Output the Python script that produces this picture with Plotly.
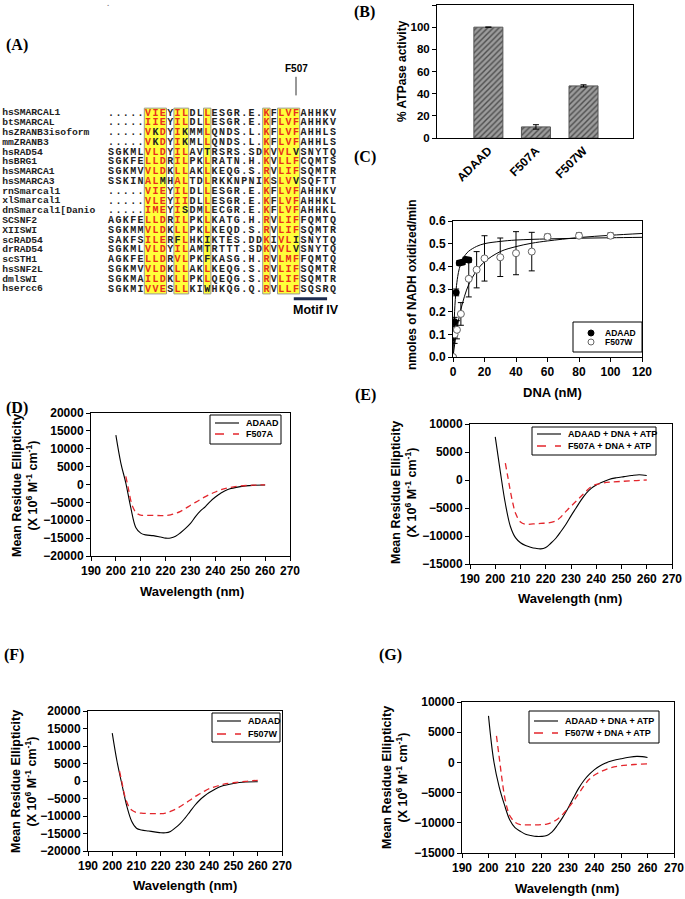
import plotly.graph_objects as go

W, H = 685, 899

# ---------- (A) alignment ----------
names = ["hsSMARCAL1", "btSMARCAL", "hsZRANB3isoform", "mmZRANB3", "hsRAD54", "hsBRG1",
         "hsSMARCA1", "hsSMARCA3", "rnSmarcal1", "xlSmarcal1", "dnSmarcal1[Danio",
         "SCSNF2", "XIISWI", "scRAD54", "drRAD54", "scSTH1", "hsSNF2L", "dmlSWI", "hsercc6"]
seqs = [".....VIEYILDLLESGR.E.KFLVFAHHKV",
        ".....IIEYILDLLESGR.E.KFLVFAHHKV",
        ".....VKDYIKMMLQNDS.L.KFLVFAHHLS",
        ".....VKDYIKMLLQNDS.L.KFLVFAHHLS",
        "SGKMLVLDYILAVTRSRS.SDKVVLVSNYTQ",
        "SGKFELLDRILPKLRATN.H.KVLLFCQMTS",
        "SGKMVVLDKLLAKLKEQG.S.RVLIFSQMTR",
        "SSKINALMHALTDLRKKNPNIKSLVVSQFTT",
        ".....VIEYILDLLESGR.E.KFLVFAHHKV",
        ".....VLEYIIDLLESGR.E.KFLVFAHHKL",
        ".....IMEYISDMLECGR.E.KFLVFAHHKL",
        "AGKFELLDRILPKLKATG.H.RVLIFFQMTQ",
        "SGKMMVLDKLLPKLKEQD.S.RVLIFSQMTR",
        "SAKFSILERFLHKIKTES.DDKIVLISNYTQ",
        "SGKMLVLDYILAMTRTTT.SDKVVLVSNYTQ",
        "AGKFELLDRVLPKFKASG.H.RVLMFFQMTQ",
        "SGKMVVLDKLLAKLKEQG.S.RVLIFSQMTR",
        "SGKMAILDKLLPKLQEQG.S.RVLIFSQMTR",
        "SGKMIVVESLLKIWHKQG.Q.RVLLFSQSRQ"]
# residues printed in red inside the boxed columns
conserved = {6: "VILA", 7: "ILVM", 8: "DE", 10: "ILVA", 11: "LI", 14: "L",
             22: "KR", 24: "LV", 25: "VLIM", 26: "F"}
mutated_col = 26

# ---------- (B) ATPase ----------
b_labels = ["ADAAD", "F507A", "F507W"]
b_values = [100, 10, 47]
b_err = [0, 2, 1]

# ---------- (C) DNA titration ----------
c_adaad_x = [0, 1, 2, 4, 6, 8, 10]
c_adaad_y = [0, 0.155, 0.285, 0.415, 0.418, 0.43, 0.428]
c_adaad_e = [0, 0.02, 0.015, 0.01, 0.01, 0.01, 0.01]
c_w_x = [0, 1, 2.5, 5, 10, 15, 20, 30, 40, 50, 60, 80, 100]
c_w_y = [0, 0.1, 0.12, 0.19, 0.345, 0.385, 0.435, 0.44, 0.458, 0.465, 0.53, 0.535, 0.535]
c_w_e = [0, 0.04, 0.04, 0.05, 0.08, 0.08, 0.1, 0.085, 0.095, 0.085, 0.012, 0.012, 0.012]
fit_adaad_x = [0, 1, 2, 3, 4, 6, 8, 10, 15, 20, 30, 40, 60, 80, 100, 120]
fit_adaad_y = [0, 0.2, 0.3, 0.355, 0.39, 0.43, 0.452, 0.467, 0.488, 0.5, 0.51, 0.516, 0.521, 0.524, 0.526, 0.528]
fit_w_x = [0, 2, 5, 10, 15, 20, 30, 40, 50, 60, 80, 100, 120]
fit_w_y = [0, 0.1, 0.21, 0.32, 0.38, 0.42, 0.465, 0.487, 0.502, 0.512, 0.527, 0.537, 0.545]

# ---------- (D) CD ----------
d_wt_x = [200, 202, 204, 206, 208, 210, 212, 215, 218, 220, 222, 224, 226, 228, 230, 232, 234, 236, 238, 240, 242, 245, 250, 255, 260]
d_wt_y = [13800, 6000, 400, -6500, -12000, -13600, -14100, -14300, -14700, -15000, -14950, -14500, -13500, -12300, -10900, -9000, -7400, -6200, -4700, -3500, -2500, -1400, -600, -250, -150]
d_mut_x = [204, 205, 206, 207, 208, 209, 210, 212, 215, 218, 220, 222, 224, 226, 228, 230, 232, 234, 236, 238, 240, 243, 246, 250, 255, 260]
d_mut_y = [2300, -1000, -4500, -6600, -7800, -8300, -8600, -8650, -8650, -8700, -8700, -8500, -8100, -7500, -6700, -5800, -5000, -4200, -3400, -2700, -2100, -1300, -800, -400, -200, -100]

# ---------- (E) CD + DNA + ATP ----------
e_wt_x = [200, 202, 204, 206, 208, 210, 212, 214, 216, 218, 220, 222, 224, 226, 228, 230, 232, 234, 236, 238, 240, 242, 245, 248, 251, 254, 257, 260]
e_wt_y = [7700, 1500, -4200, -8300, -10300, -11200, -11700, -12000, -12200, -12300, -12050, -11300, -10400, -9200, -7900, -6400, -5000, -3600, -2400, -1500, -900, -450, 100, 400, 600, 800, 950, 800]
e_mut_x = [204, 205, 206, 207, 208, 210, 212, 215, 218, 221, 224, 226, 228, 230, 232, 234, 236, 238, 240, 243, 246, 250, 255, 260]
e_mut_y = [3000, 500, -2000, -4200, -5900, -7500, -7900, -7850, -7750, -7650, -7300, -6600, -5600, -4700, -3800, -2900, -2000, -1200, -800, -500, -350, -250, -100, 0]

# ---------- (F) CD ----------
f_wt_x = [200, 202, 204, 206, 208, 210, 212, 215, 218, 220, 222, 224, 226, 228, 230, 232, 234, 236, 238, 240, 242, 245, 250, 255, 260]
f_wt_y = [13700, 5500, -1000, -7200, -11500, -13500, -14000, -14300, -14600, -14800, -14800, -14400, -13400, -12200, -10600, -8800, -7000, -5500, -4300, -3300, -2500, -1500, -700, -300, -200]
f_mut_x = [203, 204, 205, 206, 207, 208, 210, 212, 215, 218, 220, 222, 224, 226, 228, 230, 232, 234, 236, 238, 240, 243, 246, 250, 255, 260]
f_mut_y = [2800, -400, -3800, -6000, -7500, -8300, -9000, -9200, -9300, -9350, -9350, -9150, -8700, -8100, -7300, -6400, -5500, -4500, -3700, -2900, -2200, -1500, -900, -500, -100, 200]

# ---------- (G) CD + DNA + ATP ----------
g_wt_x = [200, 202, 204, 206, 208, 210, 212, 214, 216, 218, 220, 222, 224, 226, 228, 230, 232, 234, 236, 238, 240, 242, 244, 247, 250, 253, 256, 258, 260]
g_wt_y = [7700, 200, -4000, -7000, -9500, -10800, -11400, -11900, -12100, -12250, -12250, -12100, -11500, -10400, -9100, -7600, -5900, -4300, -3000, -2000, -1200, -600, -150, 300, 600, 850, 1000, 950, 800]
g_mut_x = [203, 204, 205, 206, 207, 208, 210, 212, 215, 218, 220, 222, 224, 226, 228, 230, 232, 234, 236, 238, 240, 243, 246, 250, 255, 260]
g_mut_y = [4400, 1000, -2500, -5500, -7500, -8800, -9900, -10300, -10350, -10350, -10300, -10200, -9900, -9400, -8600, -7600, -6500, -5200, -3900, -2800, -2100, -1400, -900, -550, -350, -250]

RED = "#e3262c"
SANS = "Liberation Sans"


def fx(p):
    return p / W


def fy(p):
    return 1 - p / H


def bfont(size, family=SANS, color="black"):
    return dict(family=family, size=size, color=color, weight="bold")


def frame_axis(x0, x1, rng, dtick, anchor, size=12, fmt=None, horizontal=True, **kw):
    d = dict(domain=[fx(x0), fx(x1)] if horizontal else [fy(x1), fy(x0)],
             range=rng, dtick=dtick, anchor=anchor, showline=True, linecolor="black",
             linewidth=1, mirror=True, ticks="outside", ticklen=4, tickwidth=1,
             tickcolor="black", showgrid=False, zeroline=False, tickfont=bfont(size),
             fixedrange=True, automargin=False)
    if fmt:
        d["tickformat"] = fmt
    d.update(kw)
    return d


fig = go.Figure()

# ---- alignment ----
xs, ys, txt, cols = [], [], [], []
for r, s in enumerate(seqs, start=1):
    for c, ch in enumerate(s, start=1):
        xs.append(c)
        ys.append(r)
        txt.append(ch)
        cols.append("#e8301c" if ch in conserved.get(c, "") else "#222222")
fig.add_trace(go.Scatter(x=xs, y=ys, text=txt, mode="text", textposition="middle center",
                         textfont=dict(family="Liberation Mono", size=10, color=cols, weight="bold"),
                         cliponaxis=False, showlegend=False, hoverinfo="skip", xaxis="x", yaxis="y"))
fig.add_trace(go.Scatter(x=[-13.7] * len(names), y=list(range(1, len(names) + 1)), text=names,
                         mode="text", textposition="middle right",
                         textfont=bfont(9.7, "Liberation Mono", "#222222"),
                         cliponaxis=False, showlegend=False, hoverinfo="skip", xaxis="x", yaxis="y"))

shapes = []
groups = []
for c in sorted(conserved):
    if groups and c == groups[-1][1] + 1:
        groups[-1][1] = c
    else:
        groups.append([c, c])
for c0, c1 in groups:
    shapes.append(dict(type="rect", xref="x", yref="y", x0=c0 - 0.5, x1=c1 + 0.5,
                       y0=0.5, y1=len(seqs) + 0.5, fillcolor="#ffff3a",
                       line=dict(color="#9a9a9a", width=1), layer="below"))
shapes.append(dict(type="line", xref="x", yref="y", x0=mutated_col, x1=mutated_col,
                   y0=-2.7, y1=-0.8, line=dict(color="#333333", width=1)))
shapes.append(dict(type="line", xref="x", yref="y", x0=25.7, x1=30.2, y0=20.0, y1=20.0,
                   line=dict(color="#1c2b4f", width=3)))

# ---- B bars ----
fig.add_trace(go.Bar(x=b_labels, y=b_values, width=0.61,
                     marker=dict(color="#8c8c8c", line=dict(color="#555555", width=1),
                                 pattern=dict(shape="/", fgcolor="#4d4d4d", bgcolor="#9c9c9c",
                                              size=4, solidity=0.35)),
                     error_y=dict(type="data", array=b_err, color="black", thickness=1, width=3),
                     showlegend=False, xaxis="x2", yaxis="y2"))

# ---- C titration ----
fig.add_trace(go.Scatter(x=fit_adaad_x, y=fit_adaad_y, mode="lines", line=dict(color="black", width=1, shape="spline"),
                         showlegend=False, xaxis="x3", yaxis="y3"))
fig.add_trace(go.Scatter(x=fit_w_x, y=fit_w_y, mode="lines", line=dict(color="black", width=1, shape="spline"),
                         showlegend=False, xaxis="x3", yaxis="y3"))
fig.add_trace(go.Scatter(x=c_adaad_x, y=c_adaad_y, mode="markers", name="ADAAD",
                         marker=dict(symbol="circle", size=7, color="black"),
                         error_y=dict(type="data", array=c_adaad_e, color="black", thickness=1, width=3),
                         showlegend=False, xaxis="x3", yaxis="y3"))
fig.add_trace(go.Scatter(x=c_w_x, y=c_w_y, mode="markers", name="F507W",
                         marker=dict(symbol="circle", size=7, color="white", line=dict(color="#666666", width=1)),
                         error_y=dict(type="data", array=c_w_e, color="black", thickness=1, width=3),
                         showlegend=False, xaxis="x3", yaxis="y3"))

# ---- CD panels ----
cd = [
    ("x4", "y4", d_wt_x, d_wt_y, d_mut_x, d_mut_y),
    ("x5", "y5", e_wt_x, e_wt_y, e_mut_x, e_mut_y),
    ("x6", "y6", f_wt_x, f_wt_y, f_mut_x, f_mut_y),
    ("x7", "y7", g_wt_x, g_wt_y, g_mut_x, g_mut_y),
]
for xa, ya, wx, wy, mx, my in cd:
    fig.add_trace(go.Scatter(x=wx, y=wy, mode="lines", line=dict(color="black", width=1.1, shape="spline"),
                             showlegend=False, xaxis=xa, yaxis=ya))
    fig.add_trace(go.Scatter(x=mx, y=my, mode="lines",
                             line=dict(color=RED, width=1.3, dash="6px,4px", shape="spline"),
                             showlegend=False, xaxis=xa, yaxis=ya))

ann = []


def add_text(text, x, y, size=13, angle=0, family=SANS, xanchor="center", color="black"):
    ann.append(dict(text=text, x=fx(x), y=fy(y), xref="paper", yref="paper", showarrow=False,
                    textangle=angle, font=bfont(size, family, color), xanchor=xanchor, yanchor="middle"))


# small boxed keys, drawn like the original software does
def line_key(box, rows, labels):
    x0, y0, x1, y1 = box
    shapes.append(dict(type="rect", xref="paper", yref="paper", x0=fx(x0), x1=fx(x1), y0=fy(y1), y1=fy(y0),
                       fillcolor="white", line=dict(color="black", width=1)))
    styles = [dict(color="black", width=1.1), dict(color=RED, width=1.3, dash="dash")]
    for i, (ly, lab) in enumerate(zip(rows, labels)):
        shapes.append(dict(type="line", xref="paper", yref="paper", x0=fx(x0 + 5), x1=fx(x0 + 29),
                           y0=fy(ly), y1=fy(ly), line=styles[i]))
        add_text(lab, x0 + 34, ly, size=9, xanchor="left")


line_key((210, 415, 281, 444), (423, 434), ["ADAAD", "F507A"])
line_key((532, 427, 656, 455), (434, 446), ["ADAAD + DNA + ATP", "F507A + DNA + ATP"])
line_key((212, 713, 280, 742), (721, 734), ["ADAAD", "F507W"])
line_key((529, 711, 659, 743), (721, 733), ["ADAAD + DNA + ATP", "F507W + DNA + ATP"])

# key for panel C
shapes.append(dict(type="rect", xref="paper", yref="paper", x0=fx(573), x1=fx(642), y0=fy(352), y1=fy(322),
                   fillcolor="white", line=dict(color="black", width=1)))
shapes.append(dict(type="circle", xref="paper", yref="paper", x0=fx(588), x1=fx(594), y0=fy(336), y1=fy(330),
                   fillcolor="black", line=dict(color="black", width=1)))
shapes.append(dict(type="circle", xref="paper", yref="paper", x0=fx(588), x1=fx(594), y0=fy(345), y1=fy(339),
                   fillcolor="white", line=dict(color="#666666", width=1)))
add_text("ADAAD", 603, 333, size=8.5, xanchor="left")
add_text("F507W", 603, 342, size=8.5, xanchor="left")

for lab, x, y in [("(A)", 4, 45), ("(B)", 352, 12), ("(C)", 352, 157), ("(D)", 4, 408),
                  ("(E)", 353, 395), ("(F)", 2, 655), ("(G)", 377, 655)]:
    add_text(lab, x, y, size=16, family="Liberation Serif", xanchor="left")

ytitle = "Mean Residue Ellipticity<br>(X 10<sup>6</sup> M<sup>-1</sup> cm<sup>-1</sup>)"
add_text("% ATPase activity", 402, 71, size=12, angle=-90)
add_text("nmoles of NADH oxidized/min", 412, 285, size=12, angle=-90)
add_text("DNA (nM)", 552, 392, size=13)
for x, y in [(25, 486), (404, 493), (24, 782), (395, 778)]:
    add_text(ytitle, x, y, size=12.5, angle=-90)
for x, y in [(192, 591), (570, 598), (185, 885), (567, 888)]:
    add_text("Wavelength (nm)", x, y, size=13)
add_text(".", 108, 4, size=8, color="#888888")

ann.append(dict(text="F507", x=mutated_col, y=-3.6, xref="x", yref="y", showarrow=False,
                font=bfont(10), xanchor="center", yanchor="middle"))
ann.append(dict(text="Motif IV", x=25.3, y=21.1, xref="x", yref="y", showarrow=False,
                font=bfont(12.5), xanchor="left", yanchor="middle"))

fig.update_layout(
    template="none",
    width=W, height=H, autosize=False, margin=dict(l=0, r=0, t=0, b=0, pad=0),
    paper_bgcolor="white", plot_bgcolor="white", shapes=shapes, annotations=ann, showlegend=False,
    xaxis=dict(domain=[0, fx(340)], range=[1 - 111 / 7.4, 1 + 229 / 7.4], visible=False,
               fixedrange=True, automargin=False),
    yaxis=dict(domain=[fy(320), fy(60)], range=[1 + 207 / 9.78, 1 - 53 / 9.78], visible=False,
               fixedrange=True, automargin=False),
    xaxis2=frame_axis(437, 633, [-1.08, 3.04], None, "y2", size=12, ticks="", tickangle=-45),
    yaxis2=frame_axis(5, 138, [0, 120], 20, "x2", size=11.5, horizontal=False),
    xaxis3=frame_axis(453, 642, [0, 120], 20, "y3", size=12),
    yaxis3=frame_axis(221, 357, [0, 0.6], 0.1, "x3", size=12, fmt=".1f", horizontal=False),
    xaxis4=frame_axis(91, 290, [190, 270], 10, "y4"),
    yaxis4=frame_axis(413, 556, [-20000, 20000], 5000, "x4", fmt="d", horizontal=False),
    xaxis5=frame_axis(470, 672, [190, 270], 10, "y5"),
    yaxis5=frame_axis(424, 564, [-15000, 10000], 5000, "x5", fmt="d", horizontal=False),
    xaxis6=frame_axis(88, 282, [190, 270], 10, "y6"),
    yaxis6=frame_axis(711, 851, [-20000, 20000], 5000, "x6", fmt="d", horizontal=False),
    xaxis7=frame_axis(462, 674, [190, 270], 10, "y7"),
    yaxis7=frame_axis(702, 853, [-15000, 10000], 5000, "x7", fmt="d", horizontal=False),
)

# the page's default body margin would shift the whole figure
fig.write_html("out.html", config={"displayModeBar": False},
               post_script="document.body.style.margin='0';")
